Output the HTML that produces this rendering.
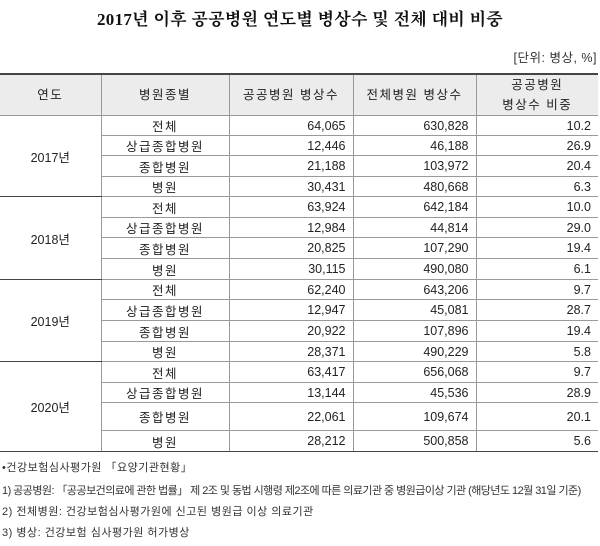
<!DOCTYPE html>
<html><head><meta charset="utf-8"><style>
body{margin:0;width:600px;height:546px;background:#fff;position:relative;overflow:hidden;font-family:"Liberation Sans","Noto Sans CJK KR",sans-serif;color:#222}
.title{position:absolute;top:5px;left:0;width:600px;text-align:center;font-family:"Liberation Serif","Noto Serif CJK SC",serif;font-weight:bold;font-size:17px;letter-spacing:0.3px;color:#111}
.unit{position:absolute;top:47px;right:3px;font-size:12.5px;color:#333;letter-spacing:0.5px}
table{position:absolute;top:73px;left:0;width:598px;border-collapse:collapse;table-layout:fixed;font-size:12.5px}
td,th{padding:0;border:1px solid #999;text-align:center;font-weight:normal;white-space:nowrap;letter-spacing:1.5px}
th{background:#ececec;height:40px;line-height:20px}
tr:first-child th{border-top:2px solid #444}
td.n{text-align:right;padding-right:7px;letter-spacing:0}
tr.g td{border-top:1px solid #444}
tr.last td{border-bottom:1.5px solid #444}
td:first-child,th:first-child{border-left:none}
td:last-child,th:last-child{border-right:none}
td.y{border-bottom:1px solid #444;letter-spacing:0}
.f{position:absolute;left:2px;font-size:11px;color:#333;white-space:nowrap;letter-spacing:0.5px}
</style></head><body>
<div class="title">2017년 이후 공공병원 연도별 병상수 및 전체 대비 비중</div>
<div class="unit">[단위: 병상, %]</div>
<table>
<colgroup><col style="width:101px"><col style="width:128px"><col style="width:124px"><col style="width:123px"><col style="width:122px"></colgroup>
<tr><th>연도</th><th>병원종별</th><th>공공병원 병상수</th><th>전체병원 병상수</th><th>공공병원<br>병상수 비중</th></tr>
<tr style="height:20px"><td rowspan="4" class="y">2017년</td><td>전체</td><td class="n">64,065</td><td class="n">630,828</td><td class="n">10.2</td></tr>
<tr style="height:20px"><td>상급종합병원</td><td class="n">12,446</td><td class="n">46,188</td><td class="n">26.9</td></tr>
<tr style="height:21px"><td>종합병원</td><td class="n">21,188</td><td class="n">103,972</td><td class="n">20.4</td></tr>
<tr style="height:20px"><td>병원</td><td class="n">30,431</td><td class="n">480,668</td><td class="n">6.3</td></tr>
<tr class="g" style="height:21px"><td rowspan="4" class="y">2018년</td><td>전체</td><td class="n">63,924</td><td class="n">642,184</td><td class="n">10.0</td></tr>
<tr style="height:20px"><td>상급종합병원</td><td class="n">12,984</td><td class="n">44,814</td><td class="n">29.0</td></tr>
<tr style="height:21px"><td>종합병원</td><td class="n">20,825</td><td class="n">107,290</td><td class="n">19.4</td></tr>
<tr style="height:21px"><td>병원</td><td class="n">30,115</td><td class="n">490,080</td><td class="n">6.1</td></tr>
<tr class="g" style="height:20px"><td rowspan="4" class="y">2019년</td><td>전체</td><td class="n">62,240</td><td class="n">643,206</td><td class="n">9.7</td></tr>
<tr style="height:21px"><td>상급종합병원</td><td class="n">12,947</td><td class="n">45,081</td><td class="n">28.7</td></tr>
<tr style="height:21px"><td>종합병원</td><td class="n">20,922</td><td class="n">107,896</td><td class="n">19.4</td></tr>
<tr style="height:20px"><td>병원</td><td class="n">28,371</td><td class="n">490,229</td><td class="n">5.8</td></tr>
<tr class="g" style="height:21px"><td rowspan="4" class="y">2020년</td><td>전체</td><td class="n">63,417</td><td class="n">656,068</td><td class="n">9.7</td></tr>
<tr style="height:20px"><td>상급종합병원</td><td class="n">13,144</td><td class="n">45,536</td><td class="n">28.9</td></tr>
<tr style="height:28px"><td>종합병원</td><td class="n">22,061</td><td class="n">109,674</td><td class="n">20.1</td></tr>
<tr class="last" style="height:21px"><td>병원</td><td class="n">28,212</td><td class="n">500,858</td><td class="n">5.6</td></tr>
</table>
<div class="f" style="top:459px">•건강보험심사평가원 「요양기관현황」</div>
<div class="f" style="top:482px;font-size:11px;letter-spacing:-0.55px">1) 공공병원: 「공공보건의료에 관한 법률」 제 2조 및 동법 시행령 제2조에 따른 의료기관 중 병원급이상 기관 (해당년도 12월 31일 기준)</div>
<div class="f" style="top:503px">2) 전체병원: 건강보험심사평가원에 신고된 병원급 이상 의료기관</div>
<div class="f" style="top:524px">3) 병상: 건강보험 심사평가원 허가병상</div>
</body></html>
